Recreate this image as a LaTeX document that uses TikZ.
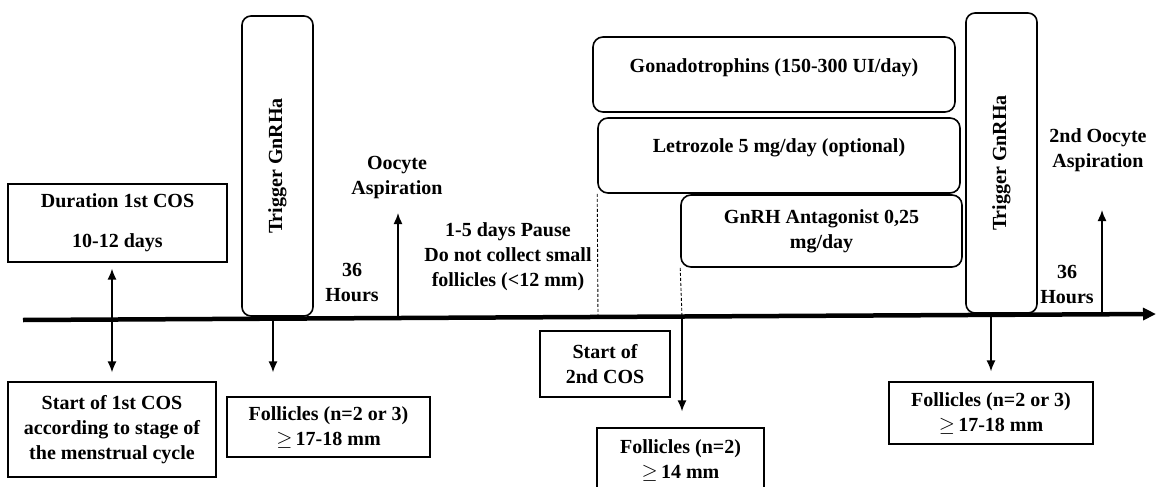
\documentclass[tikz,border=0pt]{standalone}
\usepackage{fontspec}
\setmainfont{Liberation Serif}
\usetikzlibrary{arrows.meta}
\newcommand{\atleast}{$\geq$\,}
\begin{document}
\begin{tikzpicture}[x=1pt,y=-1pt,
  every node/.style={font=\fontsize{20}{25}\selectfont\bfseries, align=center, inner sep=0pt},
  sqbox/.style={draw, line width=1.2pt},
  pillbox/.style={draw, line width=1.6pt, rounded corners=10pt},
  trigbox/.style={draw, line width=1.6pt, rounded corners=9pt, rotate=90,
                  minimum width=300pt, minimum height=71pt},
  arr/.style={line width=1.5pt, -{Latex[length=11pt,width=9pt]}},
  dblarr/.style={line width=1.5pt, {Latex[length=11pt,width=9pt]}-{Latex[length=11pt,width=9pt]}},
  guide/.style={line width=0.9pt, dash pattern=on 3pt off 2pt},
  timeline/.style={line width=4.5pt, -{Triangle[length=13pt,width=12pt]}}
]
\clip (0,0) rectangle (1156,487);
\fill[white] (0,0) rectangle (1156,487);

% time axis
\coordinate (tl0) at (23,320);
\coordinate (tl1) at (1156,314);
\draw[timeline] (tl0) -- (tl1);

% points where the markers leave the axis
\coordinate (p1) at (112,319.5);
\coordinate (p2) at (273,318.7);
\coordinate (p3) at (398,318.0);
\coordinate (p4) at (598,317.0);
\coordinate (p5) at (682,316.5);
\coordinate (p6) at (991,314.9);
\coordinate (p7) at (1102,314.3);

% first stimulation
\node[sqbox, minimum width=219pt, minimum height=78pt] (dur) at (117.5,223)
  {Duration 1st COS\\[15pt]10-12 days};
\node[sqbox, minimum width=208pt, minimum height=95pt] (st1) at (112,429.5)
  {Start of 1st COS\\according to stage of\\the menstrual cycle};
\draw[dblarr, shorten <=6pt, shorten >=9pt] (dur.south -| st1.north) -- (st1.north);

\node[trigbox] (trig1) at (277.5,166) {Trigger GnRHa};
\node[sqbox, minimum width=203pt, minimum height=60pt] (fol1) at (328.5,427)
  {Follicles (n=2 or 3)\\\atleast 17-18 mm};
\draw[arr, shorten >=24pt] (p2) -- (p2 |- fol1.north);

\node (h1) at (352,282.5) {36\\Hours};
\node (asp1) at (397,177.5) {Oocyte\\Aspiration};
\coordinate (asp1tip) at (398,213);
\draw[arr] (p3) -- (asp1tip);

\node (pause) at (508,257) {1-5 days Pause\\Do not collect small\\follicles (<12 mm)};

% second stimulation
\node[pillbox, minimum width=362pt, minimum height=75pt] (gon) at (774,74.5)
  {\raisebox{6.5pt}[\height][\depth]{Gonadotrophins (150-300 UI/day)}};
\node[pillbox, minimum width=362pt, minimum height=75pt] (let) at (779,155.5)
  {\raisebox{7.5pt}[\height][\depth]{Letrozole 5 mg/day (optional)}};
\node[pillbox, minimum width=281pt, minimum height=72pt] (ant) at (821.5,231)
  {GnRH Antagonist 0,25\\mg/day};

\draw[guide] (let.south west) -- (p4);
\draw[guide] (ant.south west) -- (p5);

\node[sqbox, minimum width=130pt, minimum height=66pt] (st2) at (605,364)
  {Start of\\2nd COS};
\node[sqbox, minimum width=167pt, minimum height=65pt] (fol2) at (680.5,460.5)
  {Follicles (n=2)\\\atleast 14 mm};
\draw[arr, shorten >=16pt] (p5) -- (p5 |- fol2.north);

\node[trigbox] (trig2) at (1001.5,163) {Trigger GnRHa};
\node[sqbox, minimum width=204pt, minimum height=62pt] (fol3) at (991,413)
  {Follicles (n=2 or 3)\\\atleast 17-18 mm};
\draw[arr, shorten >=10pt] (p6) -- (p6 |- fol3.north);

\node (h2) at (1067,284.5) {36\\Hours};
\node (asp2) at (1098,150.5) {2nd Oocyte\\Aspiration};
\coordinate (asp2tip) at (1102,210);
\draw[arr] (p7) -- (asp2tip);
\end{tikzpicture}
\end{document}
